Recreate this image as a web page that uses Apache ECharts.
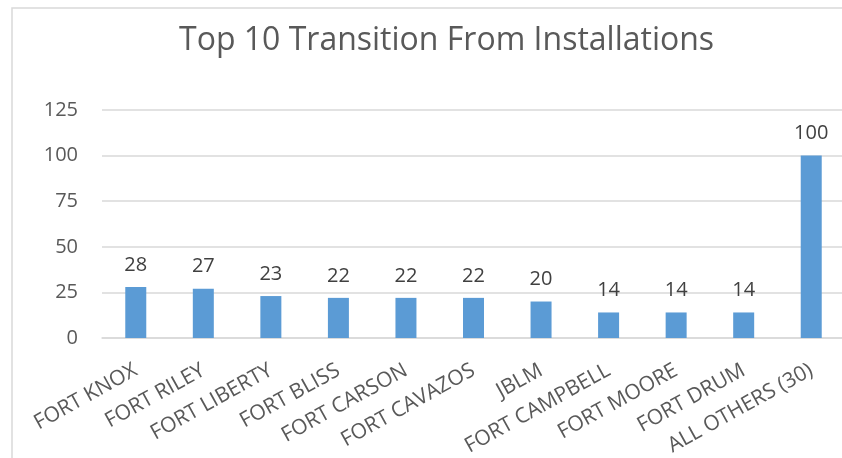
<!DOCTYPE html>
<html>
<head>
<meta charset="utf-8">
<script src="https://cdn.jsdelivr.net/npm/echarts@6/dist/echarts.min.js"></script>
<style>
  html, body { margin: 0; padding: 0; background: #fff; }
  #chart { width: 842px; height: 458px; }
</style>
</head>
<body>
<div id="chart"></div>
<script>
const installations = ['FORT KNOX', 'FORT RILEY', 'FORT LIBERTY', 'FORT BLISS', 'FORT CARSON',
  'FORT CAVAZOS', 'JBLM', 'FORT CAMPBELL', 'FORT MOORE', 'FORT DRUM', 'ALL OTHERS (30)']
const transitions = [28, 27, 23, 22, 22, 22, 20, 14, 14, 14, 100]

const chart = echarts.init(document.getElementById('chart'))
const font = 'Open Sans'

chart.setOption({
  animation: false,
  title: {
    text: 'Top 10 Transition From Installations',
    left: 174,
    top: 20,
    textStyle: { fontFamily: font, fontSize: 32, fontWeight: 'normal', color: '#595959' }
  },
  // chart border like the spreadsheet frame
  graphic: [{
    type: 'rect',
    shape: { x: 12, y: 8, width: 900, height: 500 },
    style: { fill: 'none', stroke: '#d9d9d9', lineWidth: 1.5 },
    silent: true
  }],
  grid: { left: 102, right: -3, top: 110, bottom: 120, outerBoundsMode: 'none' },
  xAxis: {
    type: 'category',
    data: installations,
    axisLine: { lineStyle: { color: '#d9d9d9', width: 1.5 } },
    axisTick: { show: false },
    axisLabel: {
      interval: 0,
      rotate: 29,
      margin: 31,
      fontFamily: font,
      fontSize: 21,
      color: '#595959'
    }
  },
  yAxis: {
    type: 'value',
    min: 0,
    max: 125,
    interval: 25,
    axisLine: { show: false },
    axisTick: { show: false },
    splitLine: { lineStyle: { color: '#d9d9d9', width: 1.5 } },
    axisLabel: { margin: 24, fontFamily: font, fontSize: 20, color: '#595959' }
  },
  series: [{
    type: 'bar',
    data: transitions,
    barWidth: 21,
    itemStyle: { color: '#5b9bd5' },
    label: {
      show: true,
      position: 'top',
      distance: 12,
      fontFamily: font,
      fontSize: 20,
      color: '#404040'
    }
  }]
})
</script>
</body>
</html>
